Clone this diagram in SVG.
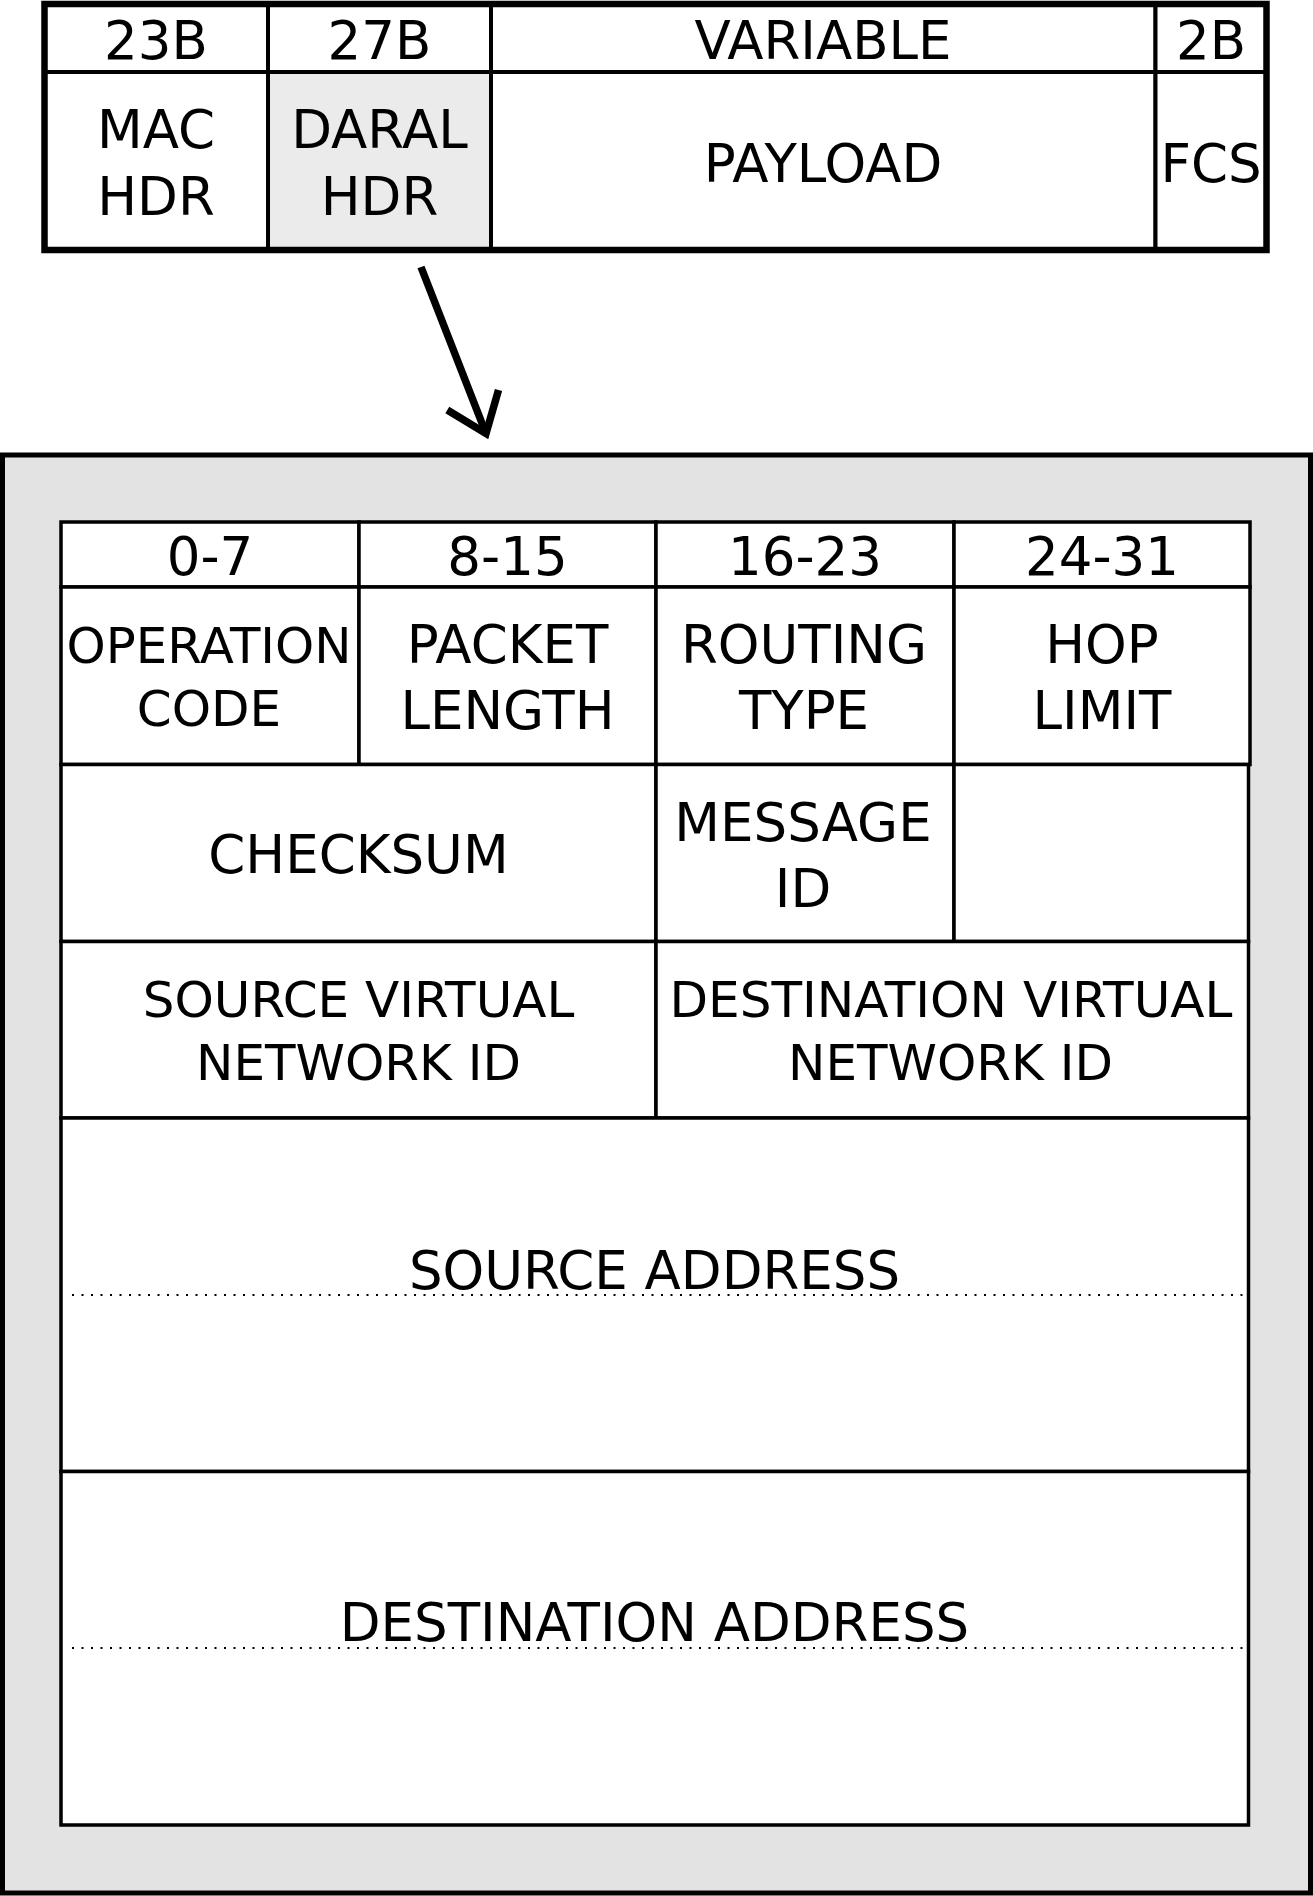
<svg xmlns="http://www.w3.org/2000/svg" width="1313" height="1896" viewBox="0 0 1313 1896">
  <style>
    .t { font-family: "DejaVu Sans", "Liberation Sans", sans-serif; font-size: 53px; text-anchor: middle; fill: #000; }
    .s { font-size: 50px; }
    .tc { fill: #fff; stroke: #000; stroke-width: 4; }
    .c { fill: #fff; stroke: #000; stroke-width: 3.5; }
    .dot { fill: none; stroke: #000; stroke-width: 2; stroke-dasharray: 2 7.5; }
  </style>
  <defs>
    <marker id="arrowV" markerUnits="userSpaceOnUse" orient="auto" refX="0" refY="0" viewBox="-50 -40 70 80" markerWidth="70" markerHeight="80" overflow="visible">
      <path d="M-36,-27.5 L0,0 L-36,27.5" fill="none" stroke="#000" stroke-width="7.5" stroke-linejoin="miter"/>
    </marker>
  </defs>
  <rect width="1313" height="1896" fill="#fff"/>

  <!-- Top frame -->
  <g id="frame">
    <g id="size-23B"><rect class="tc" x="44.5" y="4" width="223.5" height="68"/><text class="t" x="156" y="59">23B</text></g>
    <g id="size-27B"><rect class="tc" x="268" y="4" width="223" height="68"/><text class="t" x="379.5" y="59">27B</text></g>
    <g id="size-variable"><rect class="tc" x="491" y="4" width="664.5" height="68"/><text class="t" x="823" y="59">VARIABLE</text></g>
    <g id="size-2B"><rect class="tc" x="1155.5" y="4" width="111" height="68"/><text class="t" x="1211" y="59">2B</text></g>
    <g id="mac-hdr"><rect class="tc" x="44.5" y="72" width="223.5" height="178"/><text class="t" x="156" y="148">MAC</text><text class="t" x="156" y="215">HDR</text></g>
    <g id="daral-hdr"><rect class="tc" x="268" y="72" width="223" height="178" style="fill:#ebebeb"/><text class="t" x="379.5" y="148">DARAL</text><text class="t" x="379.5" y="215">HDR</text></g>
    <g id="payload"><rect class="tc" x="491" y="72" width="664.5" height="178"/><text class="t" x="823" y="181.5">PAYLOAD</text></g>
    <g id="fcs"><rect class="tc" x="1155.5" y="72" width="111" height="178"/><text class="t" x="1211" y="181.5">FCS</text></g>
    <rect x="44.5" y="4" width="1222" height="246" fill="none" stroke="#000" stroke-width="6.5"/>
  </g>

  <!-- Connector -->
  <g id="connectors">
    <path d="M421,267 L486,433.5" fill="none" stroke="#000" stroke-width="7.5" marker-end="url(#arrowV)"/>
  </g>

  <!-- DARAL header detail -->
  <g id="daral-detail">
    <rect x="2.5" y="455" width="1308" height="1438" fill="#e3e3e3" stroke="#000" stroke-width="5"/>

    <g id="bits-0-7"><rect class="c" x="61" y="522" width="298" height="65"/><text class="t" x="210" y="575">0-7</text></g>
    <g id="bits-8-15"><rect class="c" x="359" y="522" width="297" height="65"/><text class="t" x="507.5" y="575">8-15</text></g>
    <g id="bits-16-23"><rect class="c" x="656" y="522" width="298" height="65"/><text class="t" x="805" y="575">16-23</text></g>
    <g id="bits-24-31"><rect class="c" x="954" y="522" width="296" height="65"/><text class="t" x="1102" y="575">24-31</text></g>

    <g id="operation-code"><rect class="c" x="61" y="587" width="298" height="177.5"/><text class="t s" x="209" y="663" textLength="285" lengthAdjust="spacingAndGlyphs">OPERATION</text><text class="t s" x="209" y="726">CODE</text></g>
    <g id="packet-length"><rect class="c" x="359" y="587" width="297" height="177.5"/><text class="t" x="507.5" y="663">PACKET</text><text class="t" x="507.5" y="729">LENGTH</text></g>
    <g id="routing-type"><rect class="c" x="656" y="587" width="298" height="177.5"/><text class="t" x="804" y="663">ROUTING</text><text class="t" x="804" y="729">TYPE</text></g>
    <g id="hop-limit"><rect class="c" x="954" y="587" width="296" height="177.5"/><text class="t" x="1102" y="663">HOP</text><text class="t" x="1102" y="729">LIMIT</text></g>

    <g id="checksum"><rect class="c" x="61" y="764.5" width="595" height="177"/><text class="t" x="358.5" y="873">CHECKSUM</text></g>
    <g id="message-id"><rect class="c" x="656" y="764.5" width="298" height="177"/><text class="t" x="803" y="841">MESSAGE</text><text class="t" x="803" y="907">ID</text></g>
    <g id="empty-cell"><rect class="c" x="954" y="764.5" width="294.5" height="177"/></g>

    <g id="source-vnid"><rect class="c" x="61" y="941.5" width="595" height="176.5"/><text class="t s" x="358.5" y="1017">SOURCE VIRTUAL</text><text class="t s" x="358.5" y="1080">NETWORK ID</text></g>
    <g id="destination-vnid"><rect class="c" x="656" y="941.5" width="592.5" height="176.5"/><text class="t s" x="951" y="1017" textLength="563" lengthAdjust="spacingAndGlyphs">DESTINATION VIRTUAL</text><text class="t s" x="950.5" y="1080">NETWORK ID</text></g>

    <g id="source-address"><rect class="c" x="61" y="1118" width="1187.5" height="353.5"/><text class="t" x="654.5" y="1288.5">SOURCE ADDRESS</text><line class="dot" x1="72" y1="1295" x2="1246" y2="1295"/></g>
    <g id="destination-address"><rect class="c" x="61" y="1471.5" width="1187.5" height="353.5"/><text class="t" x="654.5" y="1640.5">DESTINATION ADDRESS</text><line class="dot" x1="72" y1="1648" x2="1246" y2="1648"/></g>
  </g>
</svg>
